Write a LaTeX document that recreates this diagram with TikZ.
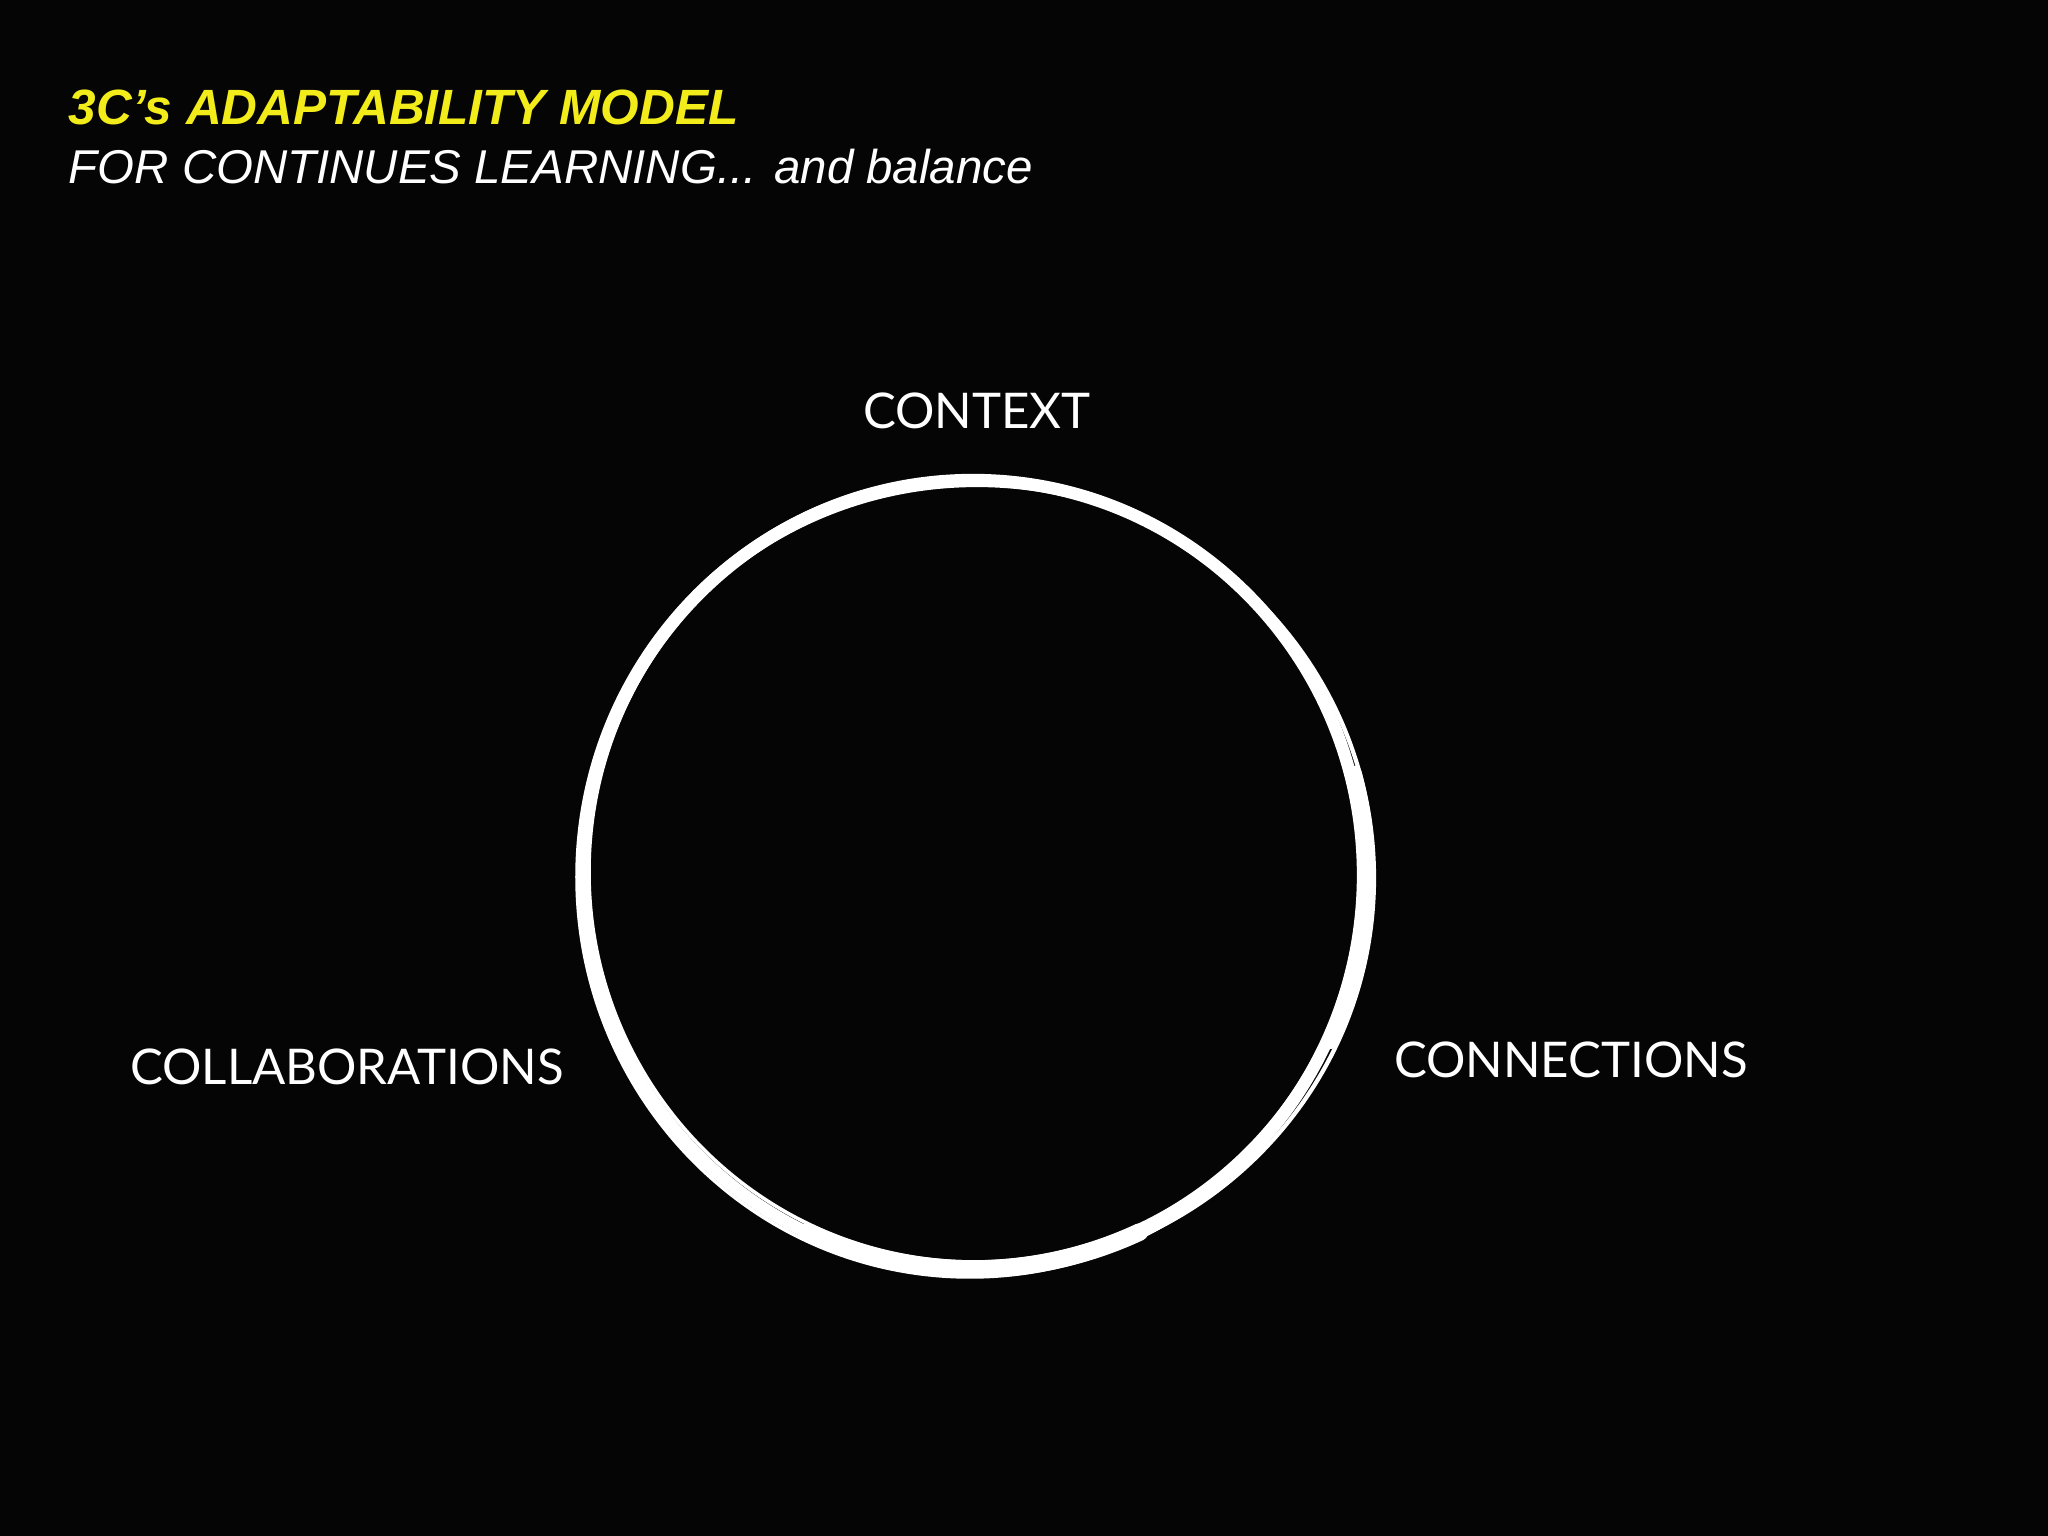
\documentclass[tikz,border=0pt]{standalone}
\usepackage{fontspec}
\setmainfont{Liberation Sans}
\newfontfamily\labelfont{Lato}
\definecolor{ttl}{HTML}{F2EC1A}
\begin{document}
\begin{tikzpicture}
\tikzset{lbl/.style={text=white,font=\labelfont\fontsize{14}{16}\selectfont},
brush/.style={white,line width=#1}}
\fill[black!98] (0,0) rectangle (20.48,15.36);
\useasboundingbox (0,0) rectangle (20.48,15.36);
\node[anchor=base west,inner sep=0,text=ttl,font=\bfseries\itshape\fontsize{14.1}{17}\selectfont] (title) at (0.68,14.11) {3C’s ADAPTABILITY MODEL};
\node[anchor=base west,inner sep=0,text=white,font=\itshape\fontsize{13.5}{17}\selectfont] (sub) at (0.68,13.52) {FOR CONTINUES LEARNING... and balance};
\coordinate (c) at (9.73,6.61);
\draw[brush=3.5pt] (c) ellipse (3.90 and 3.95);
\draw[brush=1.2pt] ([xshift=0.04cm,yshift=-0.03cm]c) ellipse (3.97 and 3.93);
\draw[brush=1pt] ([xshift=-0.03cm,yshift=-0.02cm]c) ellipse (3.93 and 4.00);
\draw[brush=1pt] ([xshift=0.02cm,yshift=0.03cm]c) ellipse (3.86 and 3.90);
\draw[brush=5pt,line cap=round] (c) ++(-65:3.94) arc (-65:-115:3.94);
\draw[brush=4pt,line cap=round] (c) ++(-25:3.95) arc (-25:15:3.95);
\node[lbl] (ctx) at (9.77,11.25) {CONTEXT};
\node[lbl] (con) at (15.71,4.76) {CONNECTIONS};
\node[lbl] (col) at (3.47,4.69) {COLLABORATIONS};
\end{tikzpicture}
\end{document}
